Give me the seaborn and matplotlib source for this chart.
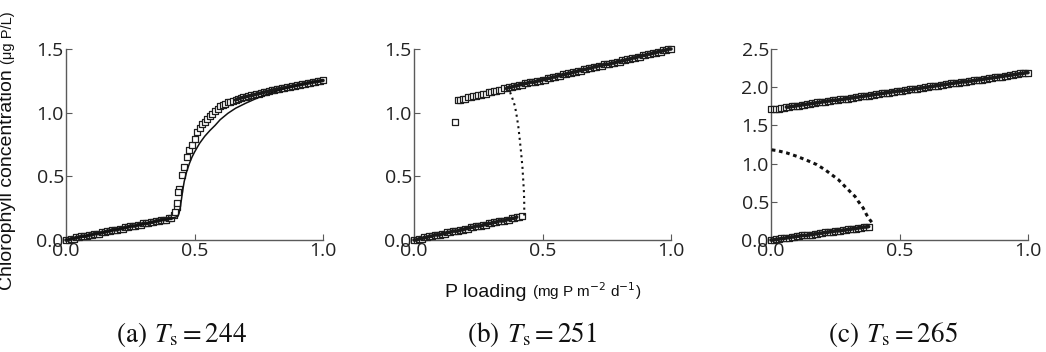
"""Diagrammes de bifurcation : chlorophylle en fonction de la charge en P, trois valeurs de Ts."""
import matplotlib
matplotlib.use("Agg")
import matplotlib.pyplot as plt
import seaborn as sns

sns.set_theme(style="ticks")
plt.rcParams["font.family"] = ["Open Sans", "DejaVu Sans"]

# Charge en P (mg P m-2 d-1), grille commune des simulations
LOADING = [
    0.00, 0.01, 0.02, 0.03, 0.04, 0.05, 0.06, 0.07, 0.08, 0.09,
    0.10, 0.11, 0.12, 0.13, 0.14, 0.15, 0.16, 0.17, 0.18, 0.19,
    0.20, 0.21, 0.22, 0.23, 0.24, 0.25, 0.26, 0.27, 0.28, 0.29,
    0.30, 0.31, 0.32, 0.33, 0.34, 0.35, 0.36, 0.37, 0.38, 0.39,
    0.40, 0.41, 0.42, 0.43, 0.44, 0.45, 0.46, 0.47, 0.48, 0.49,
    0.50, 0.51, 0.52, 0.53, 0.54, 0.55, 0.56, 0.57, 0.58, 0.59,
    0.60, 0.61, 0.62, 0.63, 0.64, 0.65, 0.66, 0.67, 0.68, 0.69,
    0.70, 0.71, 0.72, 0.73, 0.74, 0.75, 0.76, 0.77, 0.78, 0.79,
    0.80, 0.81, 0.82, 0.83, 0.84, 0.85, 0.86, 0.87, 0.88, 0.89,
    0.90, 0.91, 0.92, 0.93, 0.94, 0.95, 0.96, 0.97, 0.98, 0.99,
    1.00,
]

# (a) Ts = 244 : simulation (carrés) et modèle (trait plein)
A_SIM = [
    0.00, 0.00, 0.01, 0.01, 0.02, 0.02, 0.03, 0.03, 0.03, 0.04,
    0.04, 0.05, 0.05, 0.05, 0.06, 0.06, 0.07, 0.07, 0.08, 0.08,
    0.08, 0.09, 0.09, 0.10, 0.10, 0.11, 0.11, 0.11, 0.12, 0.12,
    0.13, 0.13, 0.13, 0.14, 0.14, 0.15, 0.15, 0.16, 0.16, 0.16,
    0.17, 0.17, 0.20, 0.26, 0.40, 0.51, 0.57, 0.65, 0.71, 0.75,
    0.79, 0.85, 0.88, 0.91, 0.93, 0.95, 0.97, 0.99, 1.01, 1.03,
    1.05, 1.06, 1.07, 1.08, 1.085, 1.09, 1.10, 1.11, 1.115, 1.12,
    1.126, 1.13, 1.135, 1.14, 1.145, 1.15, 1.155, 1.16, 1.165, 1.17,
    1.175, 1.18, 1.184, 1.188, 1.192, 1.196, 1.20, 1.204, 1.208, 1.212,
    1.216, 1.22, 1.224, 1.228, 1.232, 1.236, 1.24, 1.243, 1.246, 1.25,
    1.253,
]
A_JUMP_X = [0.425, 0.432, 0.437]
A_JUMP_Y = [0.22, 0.29, 0.38]
A_MODEL_X = [0.00, 0.42, 0.435, 0.44, 0.445, 0.45, 0.455, 0.46, 0.47, 0.48, 0.49, 0.50,
             0.52, 0.54, 0.56, 0.58, 0.60, 0.63, 0.66, 0.70, 0.75, 0.80, 0.85, 0.90, 0.95, 1.00]
A_MODEL_Y = [0.00, 0.176, 0.185, 0.21, 0.26, 0.33, 0.40, 0.46, 0.54, 0.60, 0.65, 0.69,
             0.76, 0.815, 0.86, 0.90, 0.945, 0.995, 1.035, 1.075, 1.12, 1.157, 1.188, 1.214, 1.236, 1.253]

# (b) Ts = 251 : branche basse (P de 0 à 0.42), branche haute (P de 0.17 à 1), branche instable
B_LOW = [
    0.00, 0.00, 0.01, 0.01, 0.02, 0.02, 0.03, 0.03, 0.04, 0.04,
    0.04, 0.05, 0.05, 0.06, 0.06, 0.07, 0.07, 0.07, 0.08, 0.08,
    0.09, 0.09, 0.10, 0.10, 0.11, 0.11, 0.11, 0.12, 0.12, 0.13,
    0.13, 0.14, 0.14, 0.15, 0.15, 0.15, 0.16, 0.16, 0.17, 0.17,
    0.18, 0.18, 0.185,
]
B_HIGH = [
    1.10, 1.10, 1.11,
    1.11, 1.12, 1.12, 1.13, 1.13, 1.14, 1.14, 1.15, 1.15, 1.16,
    1.16, 1.17, 1.17, 1.18, 1.18, 1.19, 1.19, 1.20, 1.20, 1.21,
    1.21, 1.22, 1.22, 1.23, 1.23, 1.24, 1.24, 1.24, 1.25, 1.25,
    1.26, 1.26, 1.27, 1.27, 1.28, 1.28, 1.29, 1.29, 1.30, 1.30,
    1.31, 1.31, 1.32, 1.32, 1.33, 1.33, 1.34, 1.34, 1.35, 1.35,
    1.36, 1.36, 1.37, 1.37, 1.38, 1.38, 1.38, 1.39, 1.39, 1.40,
    1.40, 1.41, 1.41, 1.42, 1.42, 1.43, 1.43, 1.44, 1.44, 1.45,
    1.45, 1.46, 1.46, 1.47, 1.47, 1.48, 1.48, 1.49, 1.49, 1.50,
    1.50,
]
B_OUTLIER_X = [0.16]
B_OUTLIER_Y = [0.93]
B_UNSTABLE_X = [0.374, 0.385, 0.393, 0.400, 0.406, 0.412, 0.417, 0.422, 0.425, 0.428, 0.429, 0.429]
B_UNSTABLE_Y = [1.16, 1.10, 1.05, 0.97, 0.89, 0.78, 0.68, 0.57, 0.47, 0.37, 0.28, 0.19]

# (c) Ts = 265 : branche basse (P de 0 à 0.38), branche haute, branche instable
C_LOW = [
    0.00, 0.00, 0.01, 0.01, 0.02, 0.02, 0.03, 0.03, 0.04, 0.04,
    0.05, 0.05, 0.06, 0.06, 0.06, 0.07, 0.07, 0.08, 0.08, 0.09,
    0.09, 0.10, 0.10, 0.11, 0.11, 0.12, 0.12, 0.12, 0.13, 0.13,
    0.14, 0.14, 0.15, 0.15, 0.16, 0.16, 0.17, 0.17, 0.175,
]
C_HIGH = [
    1.71, 1.71, 1.72, 1.72, 1.73, 1.73, 1.74, 1.74, 1.75, 1.75,
    1.76, 1.76, 1.77, 1.77, 1.78, 1.78, 1.79, 1.79, 1.80, 1.80,
    1.81, 1.81, 1.82, 1.82, 1.83, 1.83, 1.83, 1.84, 1.84, 1.85,
    1.85, 1.86, 1.86, 1.87, 1.87, 1.88, 1.88, 1.89, 1.89, 1.90,
    1.90, 1.91, 1.91, 1.92, 1.92, 1.93, 1.93, 1.94, 1.94, 1.95,
    1.95, 1.95, 1.96, 1.96, 1.97, 1.97, 1.98, 1.98, 1.99, 1.99,
    2.00, 2.00, 2.01, 2.01, 2.02, 2.02, 2.03, 2.03, 2.04, 2.04,
    2.05, 2.05, 2.06, 2.06, 2.07, 2.07, 2.07, 2.08, 2.08, 2.09,
    2.09, 2.10, 2.10, 2.11, 2.11, 2.12, 2.12, 2.13, 2.13, 2.14,
    2.14, 2.15, 2.15, 2.16, 2.16, 2.17, 2.17, 2.18, 2.18, 2.19,
    2.19,
]
C_UNSTABLE_X = [0.003, 0.022, 0.061, 0.100, 0.139, 0.178, 0.210, 0.236, 0.262,
                0.288, 0.307, 0.327, 0.340, 0.359, 0.372, 0.385, 0.395, 0.400]
C_UNSTABLE_Y = [1.18, 1.171, 1.14, 1.096, 1.044, 0.987, 0.92, 0.855, 0.79,
                0.70, 0.636, 0.57, 0.504, 0.417, 0.33, 0.263, 0.22, 0.20]

X_TICKS = [0.0, 0.5, 1.0]
Y_TICKS_AB = [0.0, 0.5, 1.0, 1.5]
Y_TICKS_C = [0.0, 0.5, 1.0, 1.5, 2.0, 2.5]
CAPTIONS = [r"$\mathrm{(a)}\;\, T_\mathrm{s} = 244$",
            r"$\mathrm{(b)}\;\, T_\mathrm{s} = 251$",
            r"$\mathrm{(c)}\;\, T_\mathrm{s} = 265$"]

W, H = 1046, 352
SPINE = "#5a5a5a"
EDGE = "#1e1e1e"


def squares(ax, x, y):
    sns.scatterplot(x=x, y=y, marker="s", s=15, color="white", edgecolor=EDGE,
                    linewidth=0.9, ax=ax, clip_on=False, zorder=3, legend=False)


def band(ax, x, y):
    # là où les carrés se chevauchent, la branche forme une bande sombre continue
    sns.lineplot(x=x, y=y, sort=False, estimator=None, color="#1a1a1a",
                 linewidth=2.6, ax=ax, zorder=3.5, clip_on=False)


def style_axes(ax, yticks):
    ax.set_xlim(0, 1)
    ax.set_ylim(0, yticks[-1])
    ax.set_xticks(X_TICKS)
    ax.set_yticks(yticks)
    ax.set_xticklabels([f"{t:.1f}" for t in X_TICKS])
    ax.set_yticklabels([f"{t:.1f}" for t in yticks])
    ax.set_xlabel(""); ax.set_ylabel("")
    sns.despine(ax=ax)
    for side in ("left", "bottom"):
        ax.spines[side].set_color(SPINE)
        ax.spines[side].set_linewidth(1.0)
    ax.tick_params(direction="in", length=4, width=0.8, color=SPINE,
                   labelsize=14, labelcolor="#222222", pad=1.5)
    ax.set_facecolor("none")


fig = plt.figure(figsize=(W / 100, H / 100), dpi=100)
ax_w, ax_h, ax_b = 257 / W, 191 / H, 112 / H
ax_a = fig.add_axes([66 / W, ax_b, ax_w, ax_h])
ax_bb = fig.add_axes([414 / W, ax_b, ax_w, ax_h])
ax_c = fig.add_axes([771 / W, ax_b, ax_w, ax_h])

# (a)
squares(ax_a, LOADING, A_SIM)
squares(ax_a, A_JUMP_X, A_JUMP_Y)
band(ax_a, LOADING[:42], A_SIM[:42])
band(ax_a, LOADING[66:], A_SIM[66:])
sns.lineplot(x=A_MODEL_X, y=A_MODEL_Y, sort=False, estimator=None, color="#111111",
             linewidth=1.1, ax=ax_a, zorder=4)
style_axes(ax_a, Y_TICKS_AB)

# (b)
b_high_x = LOADING[-len(B_HIGH):]
squares(ax_bb, LOADING[:len(B_LOW)], B_LOW)
squares(ax_bb, b_high_x, B_HIGH)
squares(ax_bb, B_OUTLIER_X, B_OUTLIER_Y)
band(ax_bb, LOADING[:len(B_LOW) - 2], B_LOW[:-2])
band(ax_bb, b_high_x[19:], B_HIGH[19:])
sns.lineplot(x=B_UNSTABLE_X, y=B_UNSTABLE_Y, sort=False, estimator=None, color="#111111",
             linewidth=1.5, linestyle=(0, (1.0, 1.8)), ax=ax_bb, zorder=4)
style_axes(ax_bb, Y_TICKS_AB)

# (c)
squares(ax_c, LOADING[:len(C_LOW)], C_LOW)
squares(ax_c, LOADING, C_HIGH)
band(ax_c, LOADING[:len(C_LOW)], C_LOW)
band(ax_c, LOADING[6:], C_HIGH[6:])
sns.lineplot(x=C_UNSTABLE_X, y=C_UNSTABLE_Y, sort=False, estimator=None, color="#111111",
             linewidth=2.2, linestyle=(0, (1.2, 1.2)), ax=ax_c, zorder=4)
style_axes(ax_c, Y_TICKS_C)

# Titres d'axes : partie principale + unité en plus petit, alignées sur la ligne de base
fig.canvas.draw()
renderer = fig.canvas.get_renderer()
lab = dict(family=["Liberation Sans", "DejaVu Sans"], color="#111111",
           rotation_mode="anchor", ha="left", va="baseline")

t1 = fig.text(12 / W, 62 / H, "Chlorophyll concentration ", fontsize=14, rotation=90, **lab)
h1 = t1.get_window_extent(renderer).height
fig.text(12 / W, (62 + h1) / H, "(μg P/L)", fontsize=10.5, rotation=90, **lab)

t2 = fig.text(445 / W, 55 / H, "P loading ", fontsize=14, **lab)
w2 = t2.get_window_extent(renderer).width
fig.text((445 + w2) / W, 55 / H, r"(mg P m$^{-2}$ d$^{-1}$)", fontsize=11,
         math_fontfamily="dejavusans", **lab)

for cx, cap in zip([181.5, 532, 893], CAPTIONS):
    fig.text(cx / W, 10 / H, cap, fontsize=19.5, ha="center", va="baseline",
             math_fontfamily="stix", color="#111111")

fig.savefig("out.png", dpi=100, facecolor="white")
